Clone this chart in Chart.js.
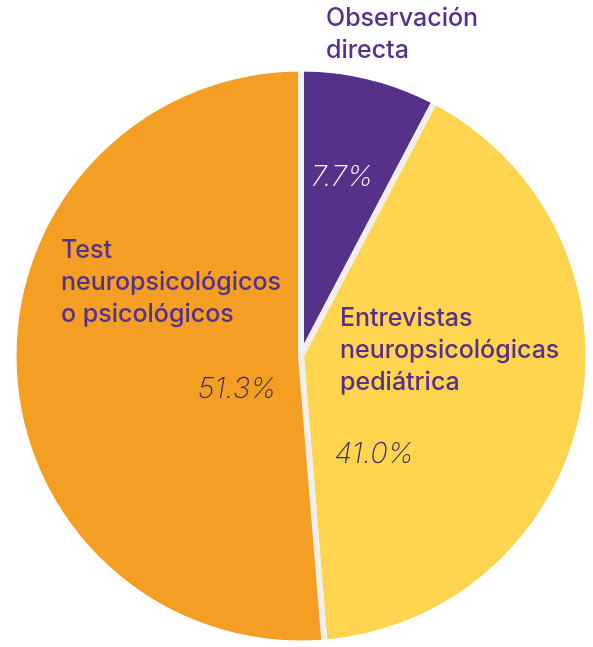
<!DOCTYPE html>
<html>
<head>
<meta charset="utf-8">
<script src="https://cdn.jsdelivr.net/npm/chart.js@4/dist/chart.umd.min.js"></script>
<style>
  html, body { margin: 0; padding: 0; background: #fff; }
</style>
</head>
<body>
<canvas id="chart-pie" width="593" height="647"></canvas>
<script>
// data
const categories = [
    ['Observación', 'directa'],
    ['Entrevistas', 'neuropsicológicas', 'pediátrica'],
    ['Test', 'neuropsicológicos', 'o psicológicos']
];
const shares = [7.7, 41.0, 51.3];

// slice labels, offsets from pie centre (px); also hides the outer rim of the border
const pieLabels = {
    id: 'pieLabels',
    afterDatasetsDraw(chart, args, opts) {
        const ctx = chart.ctx;
        const arc = chart.getDatasetMeta(0).data[0];
        const cx = arc.x, cy = arc.y;
        const bw = arc.options.borderWidth;
        ctx.save();
        ctx.strokeStyle = '#fff';
        ctx.lineWidth = bw + 1;
        ctx.beginPath();
        ctx.arc(cx, cy, arc.outerRadius, 0, Math.PI * 2);
        ctx.stroke();

        ctx.fillStyle = opts.color;
        ctx.textBaseline = 'alphabetic';
        ctx.textAlign = 'left';
        ctx.font = opts.nameFont;
        opts.names.forEach((p, i) => {
            categories[i].forEach((line, j) => {
                ctx.fillText(line, cx + p[0], cy + p[1] + j * opts.lineHeight);
            });
        });
        ctx.textAlign = 'center';
        ctx.font = opts.pctFont;
        opts.pcts.forEach((p, i) => {
            ctx.fillStyle = opts.pctColors[i];
            ctx.fillText(shares[i].toFixed(1) + '%', cx + p[0], cy + p[1]);
        });
        ctx.restore();
    }
};

new Chart(document.getElementById('chart-pie'), {
    type: 'pie',
    data: {
        labels: categories.map(c => c.join(' ')),
        datasets: [{
            data: shares,
            backgroundColor: ['#55318A', '#FFD44F', '#F49F23'],
            borderColor: '#F1EFEE',
            borderWidth: 6
        }]
    },
    options: {
        responsive: false,
        animation: false,
        layout: { padding: { left: 9, right: -2, top: 65, bottom: -4 } },
        plugins: {
            legend: { display: false },
            tooltip: { enabled: false },
            pieLabels: {
                color: '#55318A',
                pctColors: ['#FFFFFF', '#3B2866', '#3B2866'],
                nameFont: '500 25px Inter',
                pctFont: 'italic 200 29px Inter',
                lineHeight: 32,
                names: [[25, -330], [39, -30], [-240, -98]],
                pcts: [[41, -170], [73, 107], [-64, 42]]
            }
        }
    },
    plugins: [pieLabels]
});
</script>
</body>
</html>
